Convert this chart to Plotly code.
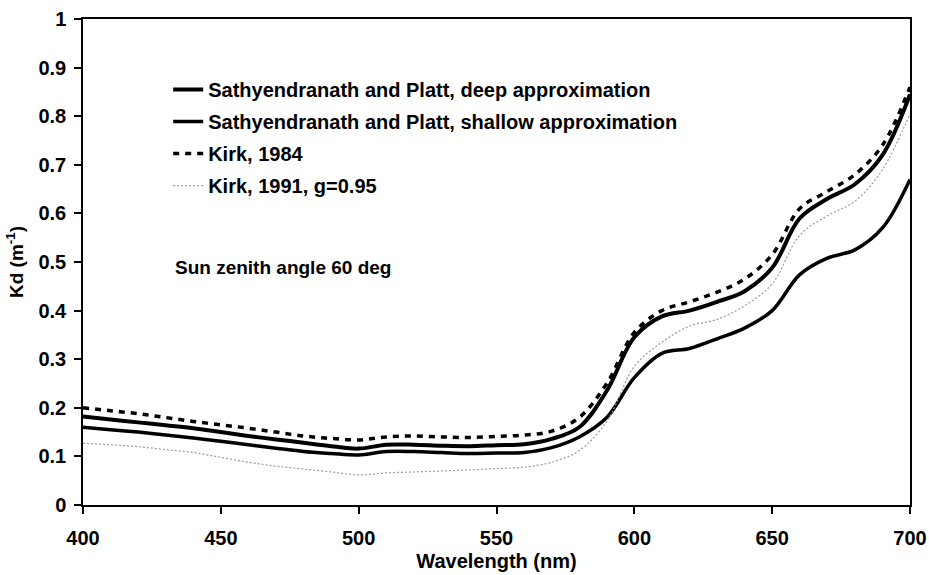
import plotly.graph_objects as go

# wavelength grid (nm)
wavelength = [400, 410, 420, 430, 440, 450, 460, 470, 480, 490, 500, 510, 520, 530, 540, 550,
              560, 570, 580, 590, 600, 610, 620, 630, 640, 650, 660, 670, 680, 690, 700]

# Kd (1/m)
kd_deep = [0.182, 0.176, 0.170, 0.164, 0.158, 0.150, 0.142, 0.135, 0.128, 0.121, 0.116, 0.124, 0.124,
           0.122, 0.121, 0.123, 0.125, 0.136, 0.160, 0.235, 0.345, 0.388, 0.400, 0.418, 0.440, 0.488,
           0.590, 0.630, 0.660, 0.720, 0.845]
kd_shallow = [0.160, 0.155, 0.150, 0.144, 0.138, 0.131, 0.124, 0.117, 0.110, 0.106, 0.103, 0.110, 0.110,
              0.108, 0.106, 0.107, 0.108, 0.118, 0.140, 0.180, 0.262, 0.312, 0.322, 0.342, 0.364, 0.400,
              0.474, 0.508, 0.525, 0.570, 0.670]
kd_kirk1984 = [0.200, 0.194, 0.188, 0.180, 0.172, 0.165, 0.158, 0.150, 0.142, 0.137, 0.134, 0.140, 0.142,
               0.140, 0.139, 0.141, 0.144, 0.152, 0.180, 0.250, 0.355, 0.400, 0.418, 0.438, 0.465, 0.515,
               0.610, 0.645, 0.680, 0.740, 0.860]
kd_kirk1991 = [0.127, 0.124, 0.120, 0.114, 0.108, 0.098, 0.088, 0.080, 0.074, 0.068, 0.062, 0.066, 0.068,
               0.070, 0.072, 0.075, 0.078, 0.088, 0.112, 0.172, 0.285, 0.335, 0.368, 0.382, 0.410, 0.455,
               0.555, 0.595, 0.625, 0.690, 0.805]

x_ticks = [400, 450, 500, 550, 600, 650, 700]
y_ticks = [0, 0.1, 0.2, 0.3, 0.4, 0.5, 0.6, 0.7, 0.8, 0.9, 1]
y_labels = ["0", "0.1", "0.2", "0.3", "0.4", "0.5", "0.6", "0.7", "0.8", "0.9", "1"]

FONT = "Liberation Sans, Arial, sans-serif"

fig = go.Figure()
fig.add_trace(go.Scatter(x=wavelength, y=kd_deep, mode="lines", line_shape="spline",
                         name="Sathyendranath and Platt, deep approximation", legendgroup="a",
                         line=dict(color="black", width=4)))
fig.add_trace(go.Scatter(x=wavelength, y=kd_shallow, mode="lines", line_shape="spline",
                         name="Sathyendranath and Platt, shallow approximation", legendgroup="b",
                         line=dict(color="black", width=3.5)))
fig.add_trace(go.Scatter(x=wavelength, y=kd_kirk1984, mode="lines", line_shape="spline",
                         name="Kirk, 1984", legendgroup="c",
                         line=dict(color="black", width=3.5, dash="6px,6px")))
fig.add_trace(go.Scatter(x=wavelength, y=kd_kirk1991, mode="lines", line_shape="spline",
                         name="Kirk, 1991, g=0.95", legendgroup="d",
                         line=dict(color="#9a9a9a", width=1.2, dash="2px,2px")))

fig.add_annotation(text="Sun zenith angle 60 deg", xref="paper", yref="paper",
                   x=0.109, y=0.488, xanchor="left", yanchor="middle", showarrow=False,
                   font=dict(family=FONT, size=19, color="black", weight="bold"))

axis_common = dict(showgrid=False, zeroline=False, showline=True, linecolor="black", linewidth=1.5,
                   mirror=True, ticks="outside", ticklen=7, tickwidth=1.5, tickcolor="black",
                   automargin=False, ticklabeloverflow="allow",
                   tickfont=dict(family=FONT, size=20, color="black", weight="bold"))

fig.update_xaxes(range=[400, 700], tickvals=x_ticks, ticklabelstandoff=7,
                 title=dict(text="Wavelength (nm)", standoff=6,
                            font=dict(family=FONT, size=20, color="black", weight="bold")),
                 **axis_common)
fig.update_yaxes(range=[0, 1], tickvals=y_ticks, ticktext=y_labels, ticklabelstandoff=4,
                 title=dict(text="Kd (m<sup>-1</sup>)", standoff=10,
                            font=dict(family=FONT, size=19, color="black", weight="bold")),
                 **axis_common)

fig.update_layout(
    width=929, height=575,
    margin=dict(l=83, r=19, t=19, b=70),
    paper_bgcolor="white", plot_bgcolor="white",
    font=dict(family=FONT, color="black"),
    legend=dict(x=0.103, y=0.895, xanchor="left", yanchor="top", bgcolor="rgba(0,0,0,0)",
                tracegroupgap=3,
                font=dict(family=FONT, size=20, color="black", weight="bold")),
)

# drop the default 8px page margin so the figure fills the window exactly
fig.write_html("out.html", config={"displayModeBar": False},
               post_script="document.body.style.margin='0px';")
